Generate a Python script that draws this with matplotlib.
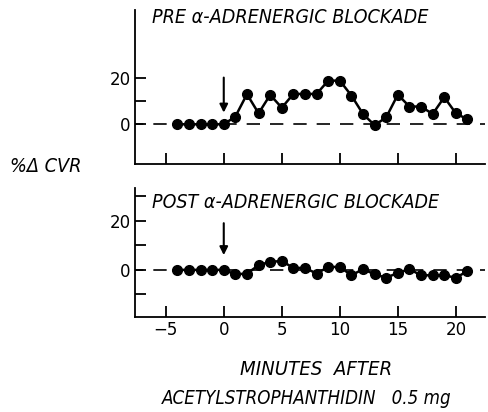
import matplotlib
matplotlib.use("Agg")
import matplotlib.pyplot as plt
from matplotlib import font_manager as fm

minutes = list(range(-4, 22))
pre_cvr = [0, 0, 0, 0, 0, 3.3, 12.9, 4.7, 12.6, 7.1, 13, 13, 13, 18.7, 18.7,
           12.3, 4.4, -0.4, 3, 12.7, 7.6, 7.6, 4.4, 11.6, 4.7, 2.1]
post_cvr = [0, 0, 0, 0, 0, -1.8, -1.5, 1.9, 3.3, 3.6, 0.8, 0.8, -1.5, 1.2, 1.2,
            -2.2, 0.3, -1.8, -3.2, -1.2, 0.3, -2.2, -2.2, -2.2, -3.2, -0.5]
xticks = [-5, 0, 5, 10, 15, 20]
pre_title = "PRE \u03b1-ADRENERGIC BLOCKADE"
post_title = "POST \u03b1-ADRENERGIC BLOCKADE"
ylabel = "%\u0394 CVR"
xlabel1 = "MINUTES  AFTER"
xlabel2 = "ACETYLSTROPHANTHIDIN   0.5 mg"

# find a condensed italic font if one is installed
cond_path = None
best = None
for f in fm.fontManager.ttflist:
    name = (f.fname + " " + f.name).lower()
    is_cond = ("condensed" in name or "narrow" in name) and "semi" not in name and "extra" not in name
    is_ital = f.style in ("italic", "oblique")
    if is_cond and is_ital:
        score = 0
        if "liberation" in name:
            score = 3
        elif "dejavu" in name and "bold" not in name:
            score = 2
        elif f.weight in ("normal", 400, "regular"):
            score = 1
        if "bold" in name:
            score -= 5
        if best is None or score > best[0]:
            best = (score, f.fname)
if best is not None and best[0] >= 0:
    cond_path = best[1]

def lab(size, narrow_factor=1.0):
    if cond_path:
        return dict(fontproperties=fm.FontProperties(fname=cond_path, size=size))
    return dict(family="DejaVu Sans", style="italic", fontsize=size * narrow_factor)

fig = plt.figure(figsize=(4.88, 4.12), dpi=100)

def style(ax, yticks, ylabels, ylim):
    ax.set_xlim(-7.65, 22.5)
    ax.set_ylim(*ylim)
    for s in ["top", "right"]:
        ax.spines[s].set_visible(False)
    for s in ["left", "bottom"]:
        ax.spines[s].set_linewidth(1.3)
    ax.set_xticks(xticks)
    ax.set_yticks(yticks)
    ax.set_yticklabels(ylabels)
    ax.tick_params(direction="in", length=8, width=1.3, labelsize=12, pad=3)
    ax.axhline(0, color="black", lw=1.2, ls=(3, (8, 6)), zorder=1)

ax1 = fig.add_axes([0.2766, 0.602, 0.717, 0.374])
ax1.plot(minutes, pre_cvr, "-o", color="black", lw=1.8, ms=7, zorder=3)
style(ax1, [0, 10, 20], ["0", "", "20"], (-17, 49))
ax1.set_xticklabels([])
ax1.text(-6.15, 45.6, pre_title, va="center", **lab(14.1, 0.93))
ax1.annotate("", xy=(0, 5), xytext=(0, 20),
             arrowprops=dict(arrowstyle="-|>", color="black", lw=1.5,
                             mutation_scale=12, shrinkA=0, shrinkB=0))

ax2 = fig.add_axes([0.2766, 0.231, 0.717, 0.312])
ax2.plot(minutes, post_cvr, "-o", color="black", lw=1.8, ms=7, zorder=3)
style(ax2, [-10, 0, 10, 20, 30], ["", "0", "", "20", ""], (-19.1, 33.2))
ax2.text(-6.15, 27.6, post_title, va="center", **lab(14.0, 0.93))
ax2.annotate("", xy=(0, 6), xytext=(0, 19),
             arrowprops=dict(arrowstyle="-|>", color="black", lw=1.5,
                             mutation_scale=12, shrinkA=0, shrinkB=0))

fig.text(0.02, 0.595, ylabel, va="center", **lab(14.2, 0.85))
fig.text(0.648, 0.104, xlabel1, ha="center", va="center", **lab(14.6, 0.85))
fig.text(0.628, 0.033, xlabel2, ha="center", va="center", **lab(13.4, 0.78))

fig.savefig("out.png", dpi=100)
